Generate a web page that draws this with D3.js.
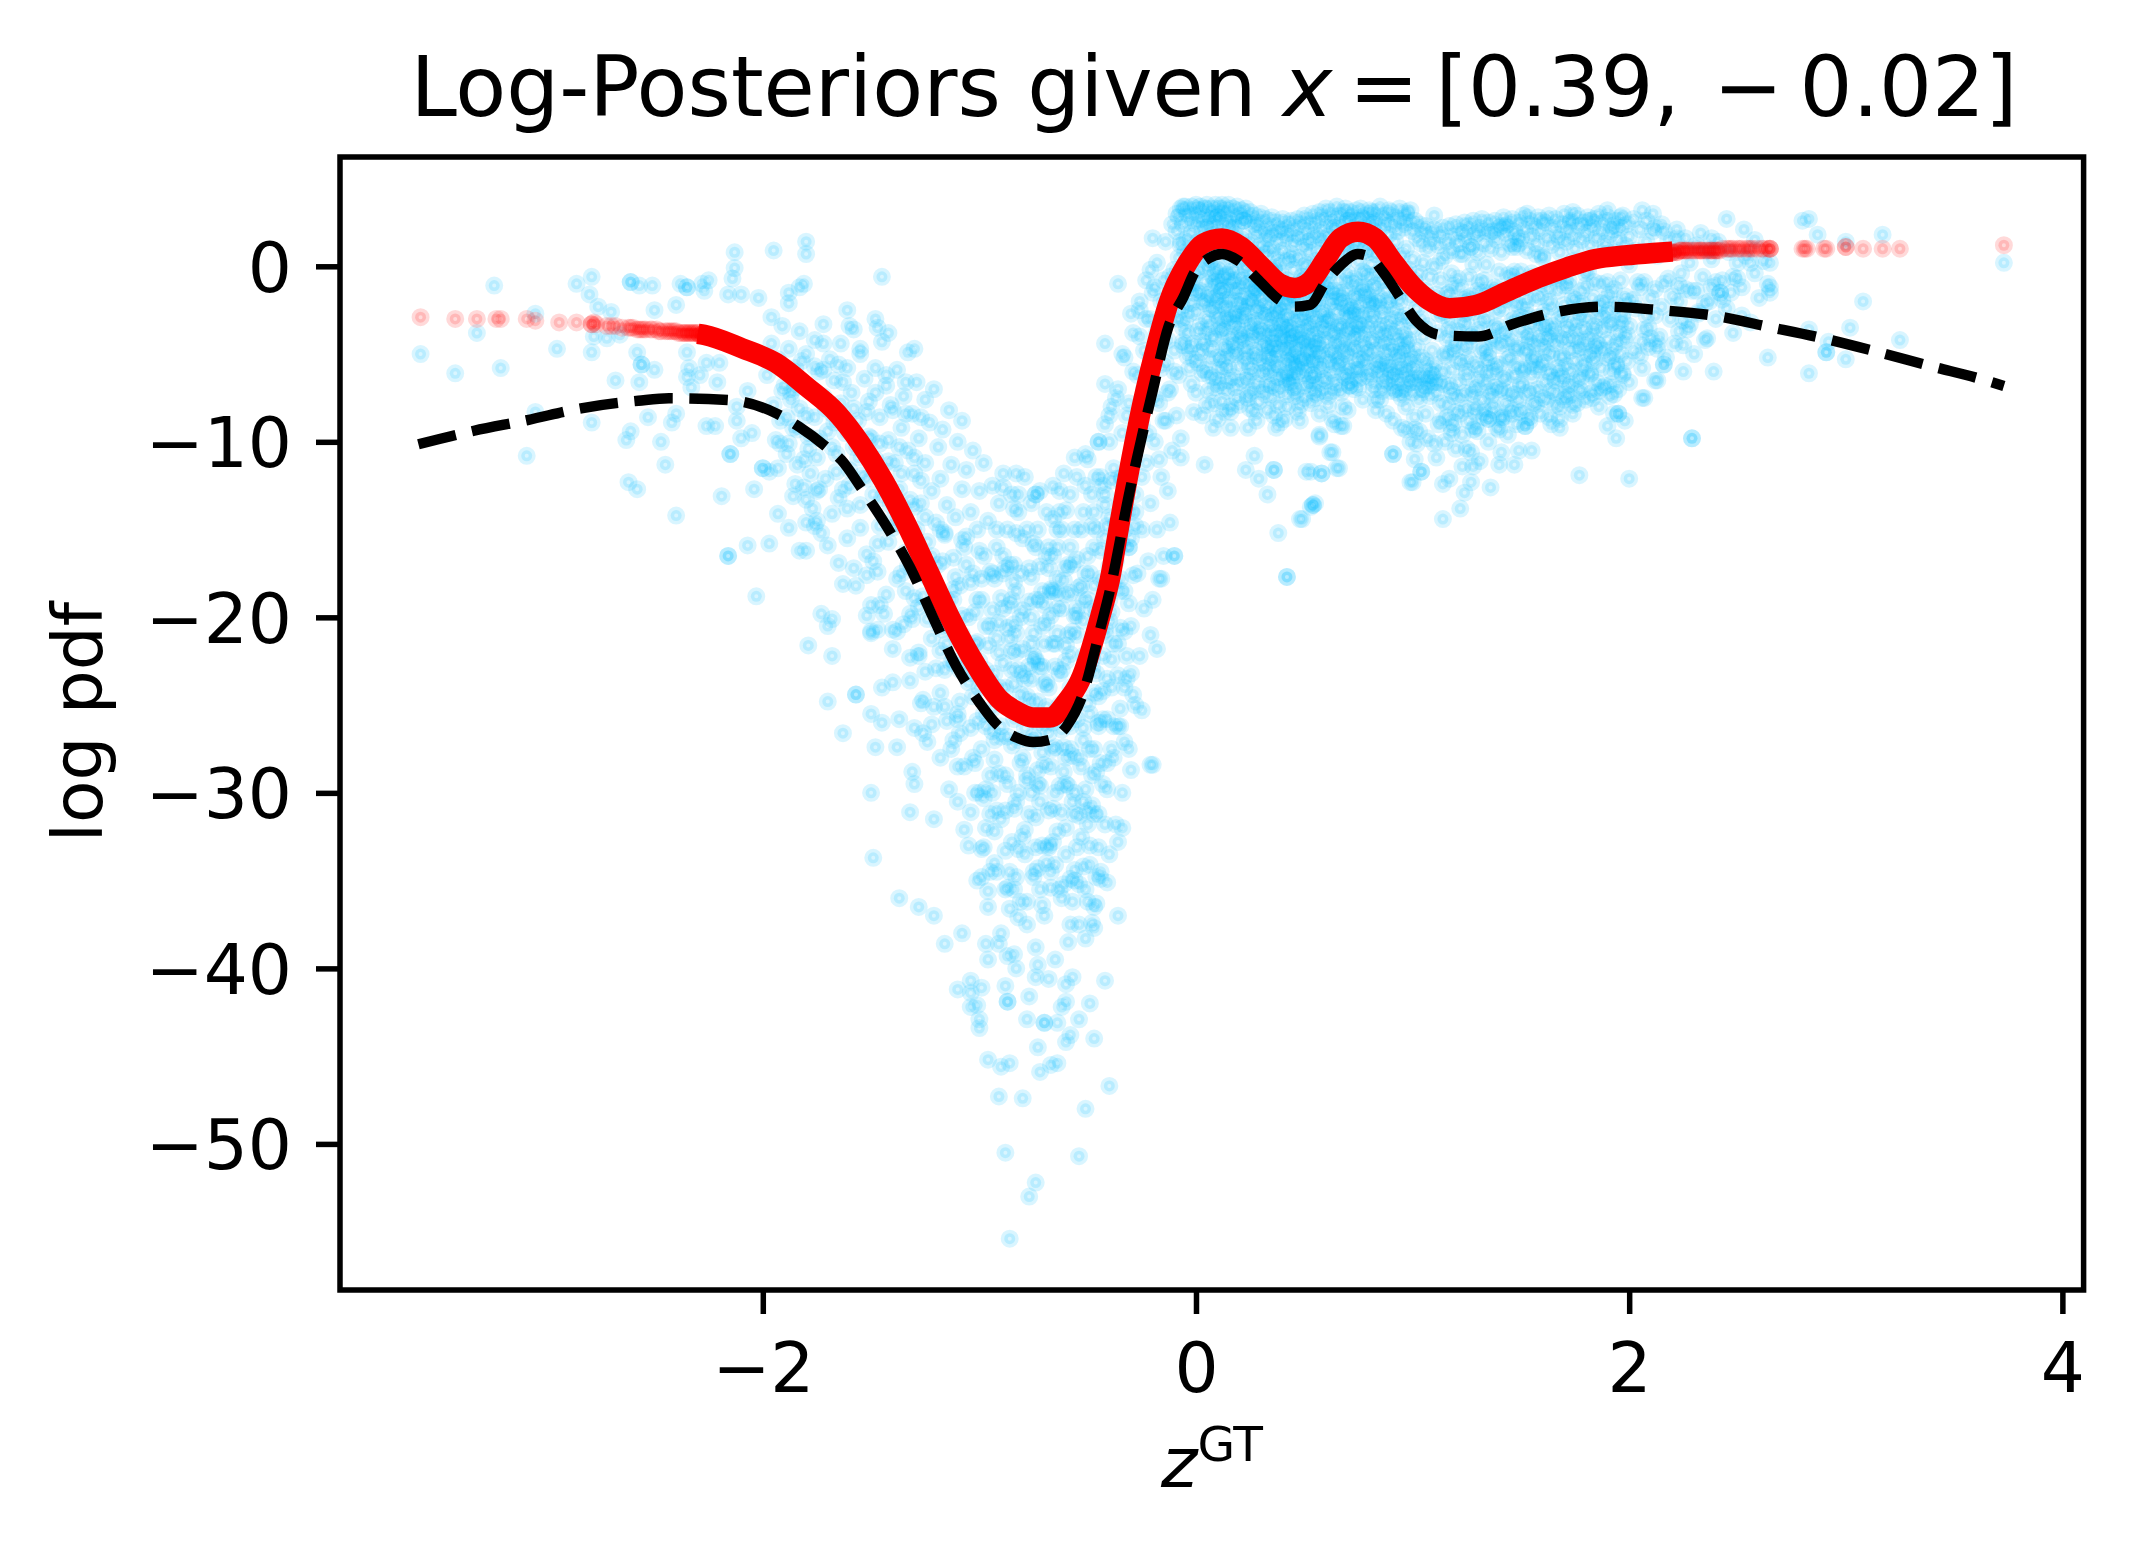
<!DOCTYPE html>
<html><head><meta charset="utf-8">
<script src="https://cdnjs.cloudflare.com/ajax/libs/d3/7.8.5/d3.min.js"></script>
<style>html,body{margin:0;padding:0;background:#fff}svg{display:block}text{font-family:"DejaVu Sans";fill:#000}</style>
</head><body><svg id="c" width="2134" height="1550"></svg>
<script>
const xTicks=[-2,0,2,4], yTicks=[0,-10,-20,-30,-40,-50];
const titleText="Log-Posteriors given ", xLabel="z", xLabelSup="GT", yLabel="log pdf";
// curves: z, log pdf
const redCurve=[[-2.3,-3.85],[-2.27,-3.91],[-2.096,-4.67],[-1.94,-5.5],[-1.797,-6.87],[-1.655,-8.4],[-1.549,-10.1],[-1.443,-12.2],[-1.337,-14.7],[-1.231,-17.5],[-1.136,-20],[-1.012,-22.8],[-.905,-24.7],[-.82,-25.4],[-.752,-25.7],[-.674,-25.7],[-.597,-24.8],[-.535,-23.6],[-.443,-20],[-.392,-17.5],[-.366,-15.6],[-.305,-11.4],[-.243,-7.6],[-.18,-4.4],[-.127,-2.1],[-.039,.19],[.031,1.28],[.12,1.59],[.208,1.12],[.296,.07],[.385,-.97],[.456,-1.23],[.526,-.87],[.597,.36],[.668,1.61],[.747,1.97],[.826,1.61],[.914,.19],[1.003,-1.16],[1.074,-1.92],[1.171,-2.39],[1.295,-2.2],[1.425,-1.5],[1.579,-.67],[1.71,-.08],[1.845,.42],[1.98,.62],[2.11,.76],[2.2,.84]];
const blackCurve=[[-3.59,-10.14],[-3.333,-9.37],[-3.086,-8.76],[-2.839,-8.09],[-2.574,-7.66],[-2.433,-7.52],[-2.159,-7.62],[-1.938,-8.38],[-1.833,-9.14],[-1.708,-10.28],[-1.637,-11.04],[-1.549,-12.56],[-1.427,-14.84],[-1.32,-17.15],[-1.214,-20],[-1.106,-22.8],[-.997,-24.9],[-.92,-26.1],[-.828,-26.85],[-.752,-27.1],[-.674,-26.97],[-.597,-26.2],[-.52,-24.3],[-.443,-20.7],[-.4,-18.6],[-.305,-12.75],[-.199,-7.05],[-.127,-3.44],[-.057,-1.73],[-.005,-.31],[.058,.45],[.12,.7],[.19,.36],[.296,-.88],[.385,-1.92],[.456,-2.3],[.526,-2.2],[.596,-.95],[.668,.07],[.747,.7],[.8,.55],[.862,-.31],[.95,-1.92],[1.02,-3.15],[1.126,-3.91],[1.304,-4],[1.46,-3.3],[1.634,-2.68],[1.88,-2.3],[2.137,-2.49],[2.39,-2.81],[2.64,-3.44],[2.895,-4.1],[3.144,-4.87],[3.39,-5.68],[3.64,-6.48],[3.73,-6.82]];
// tail samples of the red series: z*100, logpdf*10
const redTailLeft=[-358,-29,-342,-30,-332,-30,-323,-30,-321,-30,-309,-30,-305,-31,-294,-32,-286,-32,-279,-33,-279,-33,-278,-32,-277,-33,-272,-34,-270,-34,-268,-34,-265,-35,-262,-35,-261,-35,-260,-35,-258,-36,-257,-36,-256,-36,-255,-36,-254,-36,-252,-36,-251,-36,-249,-36,-248,-37,-247,-37,-245,-37,-244,-37,-243,-37,-242,-37,-241,-37,-240,-37,-239,-38,-238,-38,-237,-38,-236,-38,-236,-38,-235,-38,-234,-38,-234,-38,-233,-38,-232,-38,-232,-38,-231,-38,-230,-38,-230,-38,-229,-39,-229,-39,-228,-39,-228,-39,-227,-39,-227,-39,-226,-39,-226,-39];
const redTailRight=[212,8,213,8,214,8,215,8,216,8,216,8,217,8,218,8,218,8,219,8,220,8,220,8,221,8,222,8,222,8,223,9,224,9,224,9,225,9,226,9,226,9,227,9,228,9,229,9,230,9,231,9,232,9,233,9,233,9,234,9,235,9,236,9,237,9,238,9,238,9,239,9,240,9,240,9,241,9,242,9,243,10,245,10,246,10,247,10,248,10,250,10,251,10,252,10,254,10,255,10,256,10,257,10,259,10,261,10,262,10,264,10,265,10,265,10,265,10,280,10,281,10,282,10,290,10,291,10,300,11,300,11,308,10,317,10,325,10,373,12];
// samples of the blue series: z*100, logpdf*10
const blueTails=[-324,-11,-286,-10,-279,-6,-280,-16,-261,-9,-261,-9,-257,-11,-251,-11,-238,-10,-235,-12,-235,-12,-228,-10,-225,-8,-227,-14,-213,8,-195,9,-180,14,-180,7,-213,-1,-214,-7,-145,-6,-276,-23,-270,-26,-250,-25,-240,-22,-216,-16,-210,-16,-305,-27,-332,-38,-358,-50,-342,-61,-321,-58,-295,-47,-279,-49,-278,-40,-272,-41,-266,-39,-258,-49,-256,-56,-256,-56,-250,-59,-268,-65,-257,-66,-235,-49,-234,-58,-235,-63,-229,-62,-221,-66,-233,-69,-226,-55,-220,-55,-207,-71,-305,-83,-279,-89,-253,-86,-240,-84,-242,-89,-261,-94,-263,-99,-247,-100,-226,-91,-222,-91,-212,-88,-212,-80,-309,-108,-245,-113,-262,-123,-258,-127,-215,-107,-215,-107,-219,-131,-204,-127,-240,-142,-216,-165,-216,-165,-207,-159,-197,-158,-203,-188,-183,-162,-180,-162,-193,-141,-188,-149,-180,-146,-175,-145,-193,-115,-200,-115,-200,-115,-197,-117,-210,-98,-205,-95,-194,-99,-188,-101,-181,-110,-186,-131,-185,-124,-180,-133,-175,-128,-202,-18,-196,-29,-188,-21,-183,-12,-181,-10,-188,-15,-161,-25,-160,-34,-148,-30,-147,-35,-142,-38,-130,-47,
-86,-554,-74,-522,-77,-530,-88,-505,-54,-507,-91,-473,-80,-474,-51,-480,-40,-467,-96,-452,-90,-456,-86,-454,-72,-459,-67,-455,-64,-454,-73,-445,-47,-440,-60,-442,-58,-438,-100,-434,-100,-429,-101,-421,-104,-422,-110,-412,-104,-414,-104,-407,-99,-411,-88,-410,-87,-419,-87,-419,-77,-416,-78,-429,-70,-431,-70,-431,-64,-431,-54,-429,-49,-420,-42,-407,-68,-406,-60,-409,-57,-405,-60,-419,-62,-422,-74,-405,-73,-398,-83,-400,-96,-395,-87,-393,-97,-386,-91,-386,-116,-386,-108,-380,-121,-370,-128,-365,-137,-360,-149,-337,-132,-311,-121,-315,-150,-300,-130,-295,-131,-288,-148,-274,-138,-274,-163,-266,-170,-248,-145,-260,-150,-255,-137,-258,-130,-263,-157,-244,-157,-244,-145,-240,-140,-237,-168,-222,-179,-216,-170,-205,-168,-201,-173,-198,-152,-199,-150,-208,-147,-207,-138,-208,-20,-284,-21,-284,-30,-287,-34,-320,-36,-328,-36,-370,-46,-363,-41,-351,-48,-374,-47,-377,-51,-383,-58,-375,-25,-253,-29,-244,-30,-232,-18,-218,-21,-210,-17,-178,-10,-165,
49,-144,53,-137,55,-135,114,-144,122,-138,124,-129,127,-123,128,-114,131,-111,114,-124,117,-121,136,-126,99,-123,104,-117,91,-107,66,-115,58,-118,53,-117,101,-110,102,-101,110,-101,111,-109,125,-104,123,-114,140,-113,147,-113,141,-106,149,-105,155,-105,177,-119,200,-121,229,-98,190,-91,194,-98,195,-84,195,-84,206,-75,212,-65,216,-56,193,-73,186,-71,178,-71,176,-78,170,-76,168,-92,168,-87,163,-86,152,-91,152,-91,154,-86,140,-93,135,-87,135,-87,142,-86,128,-93,118,-95,113,-88,101,-93,97,-93,91,-88,83,-82,83,-76,71,-68,67,-91,63,-87,68,-80,57,-97,63,-106,
110,29,97,31,89,32,81,31,124,19,130,19,137,20,143,23,153,30,160,26,174,31,173,25,182,26,190,32,196,28,193,21,206,32,211,30,212,22,222,16,216,20,245,27,280,26,283,27,287,18,300,14,317,18,253,21,238,16,258,15,373,2,265,2,256,2,265,-12,265,-15,248,-6,242,-15,242,-15,247,-15,308,-20,238,-12,231,-14,223,-11,207,-9,283,-36,252,-28,225,-31,302,-35,325,-42,292,-43,291,-49,291,-49,300,-53,264,-52,239,-60,283,-61,236,-41,223,-37,213,-44,216,-56,213,-65,207,-75,229,-98,
-20,16,-21,-2,-36,-10,-30,-27,-42,-44,-42,-67,-83,-118,-63,-128,-74,-130,-74,-130,-82,-130,-89,-126,-60,-139,-66,-144,-84,-138,-56,-109,-51,-107,-45,-100,-7,-109,4,-113,-16,-178,-10,-165,-12,-146,42,-177,42,-177,38,-152,48,-144,54,-136,54,-136,33,-130,29,-121,23,-116,27,-108,36,-116,36,-116,51,-117,58,-118,65,-115,62,-106,57,-96,68,-91,71,-68,91,-107,100,-123,104,-117,24,-92,16,-92,8,-92,13,-83];
const blueDescent=[-198,-62,-196,-44,-195,-79,-193,-53,-192,-88,-191,-34,-190,-68,-189,-107,-188,-47,-187,-76,-186,-92,-185,-58,-184,-113,-183,-37,-183,-81,-182,-66,-181,-126,-180,-50,-179,-97,-178,-71,-177,-138,-176,-42,-176,-86,-175,-109,-174,-60,-173,-152,-172,-74,-172,-33,-171,-121,-170,-94,-169,-53,-168,-84,-168,-141,-167,-65,-166,-107,-165,-169,-164,-44,-164,-78,-163,-127,-162,-95,-161,-58,-161,-155,-160,-116,-159,-72,-158,-36,-158,-103,-157,-182,-156,-88,-155,-136,-155,-50,-154,-119,-153,-64,-152,-164,-151,-97,-151,-77,-150,-209,-149,-130,-148,-58,-148,-110,-147,-174,-146,-86,-146,-148,-145,-43,-144,-122,-144,-198,-143,-68,-142,-99,-142,-157,-141,-136,-140,-82,-140,-218,-139,-112,-138,-59,-138,-178,-137,-127,-136,-92,-136,-147,-135,-74,-135,-204,-134,-163,-133,-105,-133,-49,-132,-133,-132,-236,-131,-84,-130,-189,-130,-118,-129,-150,-129,-66,-128,-220,-128,-98,-127,-172,-127,-135,-126,-247,-125,-112,-125,-76,-124,-201,-124,-157,-123,-89,-122,-261,-122,-128,-121,-183,-121,-70,-120,-146,-120,-229,-119,-103,-119,-170,-118,-280,-118,-121,-117,-207,-117,-93,-116,-153,-116,-251,-115,-136,-115,-190,-114,-82,-114,-298,-113,-226,-113,-113,-112,-166,-112,-270,-111,-143,-111,-210,-110,-100,-110,-305,-109,-182,-109,-248,-108,-127,-108,-88,-107,-285,-107,-160,-106,-225,-106,-116,-105,-200,-105,-330,-104,-140,-104,-263,-103,-105,-103,-175,-102,-300,-102,-215,-101,-150,-101,-350,-100,-128,-100,-240,-99,-190,-99,-275,-98,-112,-98,-165,-97,-320,-97,-230,-96,-145,-96,-365,-95,-205,-95,-290,-94,-125,-94,-252,-93,-178,-93,-340,-92,-160,-92,-310,-91,-220,-91,-135,-90,-380,-90,-268,-89,-195,-89,-118,-88,-355,-88,-240,-87,-150,-87,-295,-86,-212,-86,-170,-85,-328,-85,-130,-84,-258,-84,-392,-83,-185,-83,-305,-82,-140,-82,-230,-81,-362,-81,-200,-80,-280,-80,-155,-79,-335,-79,-120,-78,-245,-78,-375,-77,-172,-77,-312,-76,-215,-76,-135,-75,-268,-75,-348,-74,-190,-74,-388,-73,-150,-73,-295,-72,-228,-72,-128,-71,-330,-71,-205,-70,-262,-70,-370,-69,-165,-69,-140,-68,-310,-68,-240,-67,-185,-67,-345,-66,-275,-66,-125,-65,-395,-65,-215,-64,-160,-64,-322,-63,-250,-63,-140,-62,-360,-62,-195,-61,-288,-61,-118,-60,-225,-60,-335,-59,-170,-59,-385,-58,-262,-58,-130,-57,-305,-57,-208,-56,-150,-56,-350,-55,-240,-55,-120,-54,-280,-54,-375,-53,-182,-53,-325,-52,-140,-52,-222,-51,-298,-51,-355,-50,-165,-50,-110,-49,-255,-49,-330,-48,-195,-48,-130,-47,-365,-47,-275,-46,-150,-46,-232,-45,-100,-45,-312,-44,-178,-44,-345,-43,-125,-43,-258,-42,-210,-42,-90,-41,-298,-41,-148,-40,-335,-40,-190,-39,-80,-39,-240,-38,-115,-38,-280,-37,-168,-37,-318,-36,-70,-36,-215,-35,-135,-35,-262,-34,-95,-34,-300,-33,-185,-33,-52,-32,-235,-32,-120,-31,-275,-31,-78,-30,-155,-30,-205,-29,-38,-29,-100,-28,-250,-28,-130,-27,-62,-27,-175,-26,-222,-26,-25,-25,-90,-25,-150,-24,-48,-24,-195,-23,-112,-23,-8,-22,-168,-22,-72,-21,-135,-21,-30,-20,-190,-20,-55,-19,-100,-19,-12,-18,-150,-18,2,-17,-78,-17,-35,-16,-120,-16,-58,-15,-8,-15,-165,-14,-88,-14,14,-13,-42,-13,-128,-12,-20,-12,-70,-11,24,-11,-105,-10,-48,-10,-2,-9,-85,-9,30,-8,-30,-8,-62,-7,12,-7,-98,-6,34,-6,-45];
const blueDescentMore=[-118,-150,-115,-215,-112,-190,-110,-255,-108,-210,-106,-170,-104,-232,-103,-280,-101,-190,-100,-300,-98,-255,-97,-205,-95,-345,-94,-175,-93,-270,-91,-240,-90,-315,-89,-165,-88,-290,-86,-250,-85,-190,-84,-355,-83,-220,-82,-270,-81,-175,-80,-325,-79,-235,-78,-290,-76,-200,-75,-345,-74,-160,-73,-260,-72,-305,-71,-185,-70,-238,-69,-340,-68,-160,-67,-285,-66,-215,-65,-300,-64,-195,-63,-355,-62,-150,-61,-255,-60,-320,-59,-210,-58,-275,-57,-170,-56,-300,-55,-195,-54,-235,-53,-150,-52,-270,-51,-125,-50,-225,-49,-175,-48,-290,-47,-140,-46,-205,-45,-260,-44,-120,-43,-190,-42,-155,-41,-235,-40,-100,-39,-165,-38,-215,-37,-75,-36,-145,-35,-185,-34,-120,-33,-240,-32,-85,-31,-160,-30,-110,-29,-60,-28,-140,-27,-90,-26,-40,-25,-120,-24,-70,-23,-30,-22,-95,-21,-52,-20,-15,-19,-75,-18,-38,-17,-110,-16,-20,-15,-88,-14,-55,-13,-72,-12,-6,-11,-30,-10,-60,-92,-150,-84,-180,-78,-150,-72,-190,-66,-165,-58,-160,-52,-190,-47,-160,-42,-130,-92,-212,-85,-230,-76,-235,-70,-215,-62,-230,-55,-210,-48,-215,-90,-262,-82,-300,-74,-270,-66,-260,-60,-280,-52,-305,-45,-245];
const blueDescentScatter=[-73,-287,-101,-214,-55,-331,-126,-188,-88,-172,-47,-243,-109,-266,-66,-309,-83,-348,-39,-197,-95,-236,-58,-186,-118,-243,-77,-271,-42,-318,-104,-311,-69,-203,-52,-263,-91,-289,-36,-233,-129,-171,-80,-218,-61,-352,-99,-348,-44,-283,-112,-225,-74,-331,-57,-247,-86,-193,-33,-208,-122,-212,-65,-274,-49,-341,-93,-322,-38,-262,-106,-154,-71,-364,-54,-183,-84,-309,-131,-201,-63,-232,-46,-198,-97,-262,-41,-283,-115,-259,-76,-177,-59,-296,-89,-226,-35,-178,-125,-231,-68,-331,-51,-226,-102,-283,-31,-192,-81,-244,-120,-194,-56,-312,-94,-196,-43,-242,-110,-285,-73,-248,-48,-307,-87,-268,-37,-147,-134,-185,-64,-209,-100,-162,-53,-285,-79,-321,-40,-171,-117,-168,-70,-284,-92,-345,-45,-331,-61,-179,-108,-199,-83,-152,-34,-159,-127,-249,-75,-209,-50,-249,-96,-216,-39,-224,-67,-354,-113,-275,-58,-221,-85,-273,-30,-140,-103,-245,-72,-171,-47,-182,-90,-189,-36,-121,-122,-165,-62,-264,-98,-303,-44,-162,-78,-293,-55,-167,-107,-321,-82,-332,-41,-258,-69,-251,-128,-222,-60,-187,-93,-281,-33,-271,-116,-152,-74,-314,-49,-275,-87,-206,-38,-180,-101,-259,-65,-341,-54,-313,-80,-196,-119,-204,-43,-295,-95,-174,-71,-228,-57,-279,-84,-238,-29,-176,-111,-177,-63,-296,-46,-348,-91,-203,-35,-252,-124,-271,-76,-248,-52,-202,-99,-332,-68,-266,-40,-202,-105,-237,-81,-283,-58,-349,-32,-222,-88,-333,-70,-193,-48,-148,-114,-205,-64,-186,-96,-356,-42,-136,-77,-228,-55,-258,-130,-137,-86,-366,-39,-122,-67,-199,-102,-197,-50,-362,-73,-343,-92,-246,-60,-216,-45,-262,-121,-251,-83,-209,-34,-131,-109,-230,-56,-344,-75,-158,-98,-331,-47,-312,-66,-328,-89,-175,-37,-158,-126,-266,-62,-311,-79,-263,-51,-175,-104,-180,-41,-188,-94,-265,-71,-277,-116,-230,-54,-352,-85,-219,-44,-349,-69,-237,-100,-225,-36,-262,-59,-254,-82,-371,-48,-224,-112,-184,-74,-224,-90,-248,-64,-178,-53,-234,-28,-148,-132,-223,-77,-191,-40,-143,-97,-298,-61,-274,-46,-288,-87,-354,-33,-150,-108,-156,-68,-172,-56,-199,-78,-362,-123,-178,-43,-222,-93,-232,-72,-296,-50,-318,-35,-206,-103,-221,-65,-228,-84,-204,-57,-362,-118,-219,-39,-275,-75,-222,-48,-229,-95,-312,-60,-172,-31,-160,-110,-258,-80,-232,-52,-342,-67,-184,-88,-310,-42,-207,-128,-194,-73,-256,-55,-199,-99,-178];
const blueLeftScatter=[-172,-59,-165,-132,-158,-81,-149,-168,-191,-71,-178,-118,-142,-111,-184,-93,-155,-47,-139,-143,-168,-103,-146,-193,-176,-57,-161,-138,-134,-84,-187,-72,-152,-121,-170,-159,-143,-62,-180,-85,-136,-175,-163,-66,-150,-98,-127,-122,-174,-127,-158,-172,-140,-149,-192,-101,-132,-198,-167,-89,-148,-72,-182,-54,-125,-143,-156,-109,-137,-103,-172,-44,-145,-132,-163,-181,-129,-175,-185,-69,-152,-83,-140,-207,-176,-148,-134,-66,-160,-125,-147,-158,-171,-81,-130,-109,-143,-187,-189,-86,-155,-149,-136,-118,-166,-117,-150,-193,-127,-86,-179,-104,-141,-79,-158,-95,-133,-171,-174,-98,-146,-101,-124,-177,-165,-56,-152,-176];
const blueCore=[-9,20,-8,28,-8,5,-7,33,-7,14,-6,-6,-6,24,-5,34,-5,8,-5,-22,-4,30,-4,16,-4,-38,-3,26,-3,2,-3,-58,-2,34,-2,19,-2,-12,-1,29,-1,7,-1,-44,0,35,0,24,0,-4,0,-26,0,-72,1,32,1,14,1,-15,1,-55,2,27,2,34,2,-2,2,-34,3,21,3,9,3,-20,3,-85,4,33,4,16,4,-9,4,-46,5,28,5,35,5,-1,5,-30,6,23,6,11,6,-16,6,-62,7,33,7,27,7,4,7,-24,8,30,8,18,8,-10,8,-40,8,-78,9,35,9,24,9,-3,9,-18,10,28,10,12,10,-28,10,-52,11,33,11,20,11,-7,11,-36,12,30,12,35,12,0,12,-14,12,-68,13,25,13,8,13,-22,13,-46,14,32,14,16,14,-5,14,-30,15,27,15,35,15,-12,15,-58,16,22,16,6,16,-19,16,-40,16,-80,17,33,17,12,17,-8,17,-27,18,28,18,18,18,-2,18,-50,19,34,19,24,19,-14,19,-34,20,29,20,4,20,-22,20,-66,21,32,21,10,21,-6,21,-42,22,26,22,17,22,-17,22,-30,23,33,23,-1,23,-26,23,-54,24,27,24,8,24,-10,24,-75,25,31,25,14,25,-20,25,-38,26,24,26,-4,26,-32,26,-60,27,29,27,6,27,-14,27,-48,28,18,28,-8,28,-24,28,-88,29,25,29,2,29,-36,29,-52,30,30,30,12,30,-18,30,-70,31,20,31,-3,31,-28,31,-44,32,27,32,7,32,-12,32,-60,33,16,33,-22,33,-38,33,-82,34,23,34,-6,34,-52,34,-33,35,28,35,10,35,-16,35,-68,36,19,36,-1,36,-44,36,-28,37,25,37,6,37,-10,37,-58,37,-92,38,14,38,-24,38,-38,38,-50,39,21,39,-4,39,-70,39,-32,40,27,40,9,40,-14,40,-46,41,16,41,-20,41,-62,41,-36,42,24,42,3,42,-8,42,-80,43,19,43,-28,43,-52,43,-42,44,26,44,7,44,-16,44,-66,45,13,45,-2,45,-38,45,-56,46,22,46,-12,46,-30,46,-74,47,27,47,5,47,-46,47,-60,48,17,48,-20,48,-36,48,-88,49,24,49,-6,49,-52,49,-42,50,29,50,11,50,-26,50,-68,51,20,51,1,51,-16,51,-58,52,26,52,8,52,-34,52,-48,53,15,53,-9,53,-40,53,-78,54,23,54,30,54,-22,54,-62,55,18,55,3,55,-30,55,-54,56,26,56,-12,56,-44,56,-72,57,31,57,9,57,-6,57,-84,58,21,58,-18,58,-36,58,-50,59,28,59,13,59,-26,59,-64,60,33,60,4,60,-10,60,-42,61,24,61,17,61,-30,61,-74,62,31,62,-2,62,-20,62,-56,63,27,63,10,63,-38,63,-48,64,22,64,-14,64,-66,64,-90,65,34,65,6,65,-26,65,-44,66,29,66,15,66,-8,66,-54,67,24,67,-18,67,-34,67,-72,68,31,68,2,68,-42,68,-62,69,33,69,11,69,-24,69,-50,70,26,70,-4,70,-14,70,-82,71,31,71,18,71,-36,71,-60,72,28,72,8,72,-28,72,-46,73,22,73,-10,73,-18,73,-70,74,32,74,13,74,-40,74,-54,75,26,75,3,75,-22,75,-64,76,33,76,16,76,-12,76,-34,77,21,77,-3,77,-44,77,-76,78,29,78,9,78,-28,78,-52,79,24,79,-16,79,-36,80,32,80,14,80,-6,80,-60,81,27,81,1,81,-22,81,-42,82,20,82,-12,82,-30,82,-70,83,31,83,7,83,-48,84,26,84,-4,84,-36,84,-56,85,34,85,12,85,-18,85,-76,86,22,86,-8,86,-28,86,-44,87,29,87,3,87,-54,87,-64,88,25,88,-14,88,-38,88,-84,89,18,89,-2,89,-22,89,-58,90,31,90,8,90,-46,90,-66,91,24,91,-10,91,-30,92,28,92,14,92,-40,92,-60,93,20,93,-4,93,-72,93,-52,94,33,94,-20,94,-34,95,26,95,6,95,-48,95,-92,96,22,96,-12,96,-62,96,-70,97,30,97,10,97,-28,97,-80,98,25,98,-2,98,-54,98,-42,99,32,99,-18,99,-64,99,-100,100,20,100,4,100,-36,100,-72,101,26,101,-8,101,-58,101,-86,102,16,102,-24,102,-66,102,-46,103,24,103,-4,103,-76,103,-94,104,13,104,-30,104,-62,104,-52,105,20,105,2,105,-40,105,-70,106,23,106,-14,106,-64,106,-84,107,10,107,-34,107,-58,107,-98,108,18,108,-6,108,-68,108,-74,109,14,109,-22,109,-62,109,-48,110,21,110,0,110,-56,110,-66];
const blueCoreScatter=[37,-27,-3,-47,61,-5,14,-71,82,-43,26,-13,53,-65,6,-33,71,-23,44,-41,-7,-17,92,-25,33,-57,19,-49,64,-39,10,-87,56,-21,85,-61,29,-77,48,-9,3,-61,76,-53,41,-33,15,-29,67,-15,23,-65,97,-47,52,-49,-1,-83,35,-75,80,-33,8,-41,59,-71,27,-51,73,-7,46,-25,12,-53,89,-19,39,-89,-5,-31,63,-61,21,-37,55,-37,94,-57,31,-11,78,-47,5,-79,43,-61,17,-63,69,-29,50,-75,25,-43,86,-71,36,-19,1,-37,58,-45,74,-59,11,-11,47,-83,91,-37,28,-67,65,-51,-2,-67,40,-23,83,-11,20,-57,54,-33,7,-53,77,-39,34,-47,95,-75,16,-9,60,-65,45,-69,24,-73,88,-49,-4,-11,38,-63,70,-57,9,-69,51,-43,30,-55,81,-27,13,-37,62,-31,99,-31,42,-55,22,-23,75,-69,-6,-35,57,-59,32,-73,93,-17,18,-45,49,-29,4,-21,66,-69,84,-53,27,-39,44,-53,10,-65,72,-41,37,-47,2,-49,61,-79,96,-39,19,-27,53,-27,79,-19,35,-35,14,-19,87,-67,46,-71,25,-57,-8,-13,68,-47,41,-15,6,-71,56,-67,90,-71,30,-61,76,-27,16,-43,48,-57,63,-23,-3,-27,23,-47,98,-67,39,-13,71,-65,11,-31,52,-13,83,-59,34,-29,59,-33,20,-79,43,-35,66,-43,8,-25,94,-43,28,-31,74,-17,50,-61,-1,-53,36,-53,86,-25,15,-51,55,-47,69,-63,25,-21,42,-73,3,-43,80,-49,58,-57,33,-67,12,-77,92,-63,47,-39,64,-17,21,-11,77,-63,38,-79,-5,-9,54,-71,18,-69,85,-39,29,-25,70,-37,45,-49,7,-47,60,-13,100,-53,24,-63,51,-35,36,-85,82,-67,13,-57,67,-55,41,-87,-2,-21,26,-71,75,-33,56,-41,10,-17,89,-33,32,-45,62,-49,17,-33,46,-19,78,-55,4,-59,37,-69,96,-59,22,-41,55,-75,72,-25,-7,-25,40,-41,84,-21,14,-47,58,-27,30,-37,65,-57,9,-9,49,-53,25,-81,91,-49,43,-45,68,-21,19,-75,35,-61,80,-63,-4,-51,53,-53,11,-59,74,-47,28,-15,60,-37,44,-65,94,-29,16,-83,38,-25,77,-15,5,-37,57,-15,23,-51,86,-57,48,-79,33,-51,71,-49,-1,-15,41,-63,63,-71,12,-35,52,-67,97,-43,27,-83,81,-21,20,-39,66,-35,36,-41,45,-57,8,-63,75,-59,55,-55,-6,-43,31,-21,88,-43,15,-65,61,-53,42,-29,73,-33];
const blueRight=[111,-16,111,-72,112,12,112,-38,112,-90,113,18,113,-8,113,-78,114,22,114,-28,114,-60,115,6,115,-50,115,-100,116,14,116,-16,116,-86,117,23,117,-36,117,-68,118,9,118,-4,118,-92,119,17,119,-44,119,-74,120,24,120,-22,120,-104,121,13,121,-54,121,-66,122,20,122,-12,122,-84,123,7,123,-32,123,-96,124,25,124,-46,124,-72,125,15,125,-18,125,-60,126,23,126,-6,126,-88,127,11,127,-40,127,-106,128,26,128,-26,128,-70,129,18,129,-56,129,-80,130,8,130,-14,130,-94,131,22,131,-36,131,-64,132,27,132,-48,132,-76,133,13,133,-8,133,-86,134,20,134,-30,134,-66,135,25,135,-52,135,-100,136,10,136,-20,136,-74,137,18,137,-42,137,-82,138,26,138,-12,138,-60,139,15,139,-34,139,-92,140,22,140,-56,140,-70,141,8,141,-24,141,-86,142,28,142,-44,142,-64,143,19,143,-16,143,-78,144,24,144,-38,144,-96,145,13,145,-52,145,-72,146,27,146,-6,146,-84,147,20,147,-30,147,-62,148,11,148,-46,148,-90,149,25,149,-22,149,-76,150,16,150,-36,150,-68,151,29,151,-58,151,-82,152,21,152,-12,152,-48,153,9,153,-28,153,-72,154,26,154,-40,154,-88,155,17,155,-4,155,-62,156,23,156,-52,156,-78,157,13,157,-18,157,-44,158,28,158,-34,158,-70,159,20,159,-56,159,-84,160,6,160,-10,160,-46,161,25,161,-26,161,-66,162,16,162,-40,162,-76,163,29,163,-20,163,-60,164,12,164,-50,164,-90,165,22,165,-6,165,-34,166,27,166,-44,166,-72,167,18,167,-14,167,-58,168,8,168,-30,168,-80,169,24,169,-52,169,-64,170,30,170,-22,170,-42,171,14,171,-68,171,-36,172,21,172,-8,172,-74,173,26,173,-48,173,-60,174,17,174,-18,174,-84,175,10,175,-32,175,-54,176,29,176,-64,176,-42,177,23,177,-26,177,-70,178,15,178,-46,178,-14,179,25,179,-58,179,-36,180,19,180,-4,180,-76,181,28,181,-30,181,-50,182,12,182,-62,182,-40,183,22,183,-18,183,-72,184,27,184,-54,184,-34,185,16,185,-44,185,-66,186,30,186,-24,186,-80,187,20,187,-10,187,-58,188,25,188,-48,188,-36,189,13,189,-68,189,-28,190,28,190,-52,190,-42,191,18,191,-16,191,-74,192,23,192,-60,192,-32,193,8,193,-46,193,-84,194,26,194,-22,194,-56,195,15,195,-38,195,-70,196,22,196,-8,196,-50,197,29,197,-62,197,-30,198,12,198,-42,198,-88,199,24,199,-20,199,-54,200,17,200,-34,200,-66,202,27,202,-48,203,9,203,-24,205,21,205,-12,206,-58,207,-36,208,26,208,14,209,-46,210,-18,211,20,212,-28,213,6,214,-40,215,24,216,-10,217,-52,218,15,219,-30,220,8,221,-44,222,21,223,-20,224,-4,225,-60,226,16,227,-36,228,2,229,-14,230,-50,231,12,232,-26,233,19,234,-6,235,-42,236,9,237,-20,238,4,240,-30,241,14,243,-8,245,-24,246,8,248,-38,250,2,252,-12,254,6,256,-32,258,-4,260,-18,262,3,264,-10];
const blueRightScatter=[127,-17,163,-41,118,-59,147,-3,191,-33,136,-71,172,-11,112,-27,155,-57,184,-47,129,-83,141,23,198,-17,166,-65,121,-7,150,-29,178,-21,133,-47,160,-75,116,-41,145,-81,189,9,125,-33,169,-51,139,-13,208,-28,157,7,114,-67,182,-61,148,-47,130,-21,195,-43,123,-55,174,3,153,-19,137,-79,204,-9,161,-33,119,-11,186,-29,143,-63,168,15,128,-73,152,-39,180,-11,134,1,210,-41,158,-59,113,3,192,-51,146,-31,171,-73,126,-45,138,-57,200,1,164,-23,120,-83,149,13,176,-37,131,-9,155,-71,188,-69,142,-37,215,-23,167,-7,117,-31,135,-61,183,-51,159,-17,124,-19,197,-27,150,-67,173,-41,140,-3,122,7,162,-49,206,-43,144,-53,178,-63,129,-91,156,-9,115,-51,193,-13,169,-27,137,-41,184,-37,147,-73,127,11,212,-13,164,-63,132,-31,175,-19,153,-49,118,-71,199,-39,141,-87,187,-21,159,-41,125,-63,220,-17,148,17,171,-57,134,-55,194,-57,143,-19,166,-79,121,-37,181,-3,151,-59,228,-33,139,-25,202,-19,161,-55,116,-79,176,-47,146,11,130,-69,190,-9,155,-33,235,-21,168,-41,124,-27,145,-43,183,-75,136,-15,209,-35,158,-29,120,-47,173,-67,149,-83,196,-33,128,1,240,-9,163,-13,142,-71,186,-45,133,-83,154,-43,178,-29,117,-15,218,-7,170,-11,138,-35,225,-45,160,5,126,-53,192,-67,148,-57,180,-43,119,-89,243,-19,165,-37,135,-49,205,-51,152,-23,128,-39,174,-79,189,-19,144,-5,232,-27,157,-79,122,-75,197,-61,140,-45,168,-61,131,-59,250,-7,162,-35,184,-9,147,-21,213,-47,172,-33,125,-81,156,-53,138,-69,226,-13,191,-25,150,-3,118,-49,179,-55,164,-71,133,-15];
// dark patches of the cloud
const blueDense=[4,10,8,-6,12,-14,16,-3,20,-20,24,2,28,-12,32,-26,36,-2,40,-34,44,-18,48,-42,52,-26,56,-50,60,-30,34,-46,38,-56,42,-48,46,-62,50,-54,54,-62,42,-66,46,-50,50,-44,54,-44,40,-42,36,-38,44,-38,48,-32,30,-40,26,-34,22,-28,18,-30,14,-24,10,-22,6,-18,2,-14,62,-14,66,-20,70,-8,74,-26,78,-12,82,-20,86,-34,66,-34,70,-28,74,-36,78,-4,58,-8,54,-16,50,-8,46,-12,42,-20,38,-14,34,-8,30,-2,26,-18,22,-8,18,-14,14,-6,10,-2,6,2,2,6,-2,8,90,-62,94,-66,98,-58,102,-62,106,-68,110,-60,92,-70,96,-72,100,-66,104,-72,108,-64,112,-66,90,-56,100,-50,94,-50,106,-54,4,24,10,28,16,24,22,26,28,22,34,18,40,20,46,16,52,14,58,16,64,22,70,26,76,28,82,24,6,14,14,12,20,14,26,8,32,10,38,2,44,4,50,0,56,-4,62,4,68,12,74,14,80,8,86,10,-2,-8,-94,-240,-84,-170,-74,-225,-66,-185,-58,-240,-94,-300,-86,-345,-76,-300,-68,-330,-60,-295,-50,-310,-72,-355,-64,-150,-50,-190,-46,-120,-40,-85,-34,-50,-26,-20];
const X=d3.scaleLinear().domain([-3.952,4.098]).range([340,2083.6]);
const Y=d3.scaleLinear().domain([0,-50]).range([266.3,1143.9]);
const svg=d3.select("#c");
const toPairs=a=>{const o=[];for(let i=0;i<a.length;i+=2)o.push([a[i]/100,a[i+1]/10]);return o};
const blue=[blueTails,blueDescent,blueDescentMore,blueDescentScatter,blueLeftScatter,blueCore,blueCoreScatter,blueRight,blueRightScatter,blueDense].flatMap(toPairs);
const dots=(data,col)=>svg.append("g").selectAll("circle").data(data).join("circle")
 .attr("cx",d=>X(d[0])).attr("cy",d=>Y(d[1])).attr("r",5.5)
 .attr("fill",col).attr("fill-opacity",.15).attr("stroke",col).attr("stroke-opacity",.15).attr("stroke-width",7);
dots(blue,"#00bfff");
const line=d3.line().x(d=>X(d[0])).y(d=>Y(d[1])).curve(d3.curveMonotoneX);
svg.append("path").attr("d",line(redCurve)).attr("fill","none").attr("stroke","#fb0000").attr("stroke-width",20.5);
dots([...toPairs(redTailLeft),...toPairs(redTailRight)],"#ff0000");
svg.append("path").attr("d",line(blackCurve)).attr("fill","none").attr("stroke","#000").attr("stroke-width",10.4).attr("stroke-dasharray","38.5 16.6");
// frame
svg.append("rect").attr("x",340).attr("y",157).attr("width",1743.6).attr("height",1133).attr("fill","none").attr("stroke","#000").attr("stroke-width",5.5);
const fs=69.4;
const gx=svg.append("g").attr("transform","translate(0,1290)").call(d3.axisBottom(X).tickValues(xTicks).tickSize(24).tickPadding(24));
const gy=svg.append("g").attr("transform","translate(340,0)").call(d3.axisLeft(Y).tickValues(yTicks).tickSize(24).tickPadding(24));
[gx,gy].forEach(g=>{g.select(".domain").remove();g.selectAll("line").attr("stroke","#000").attr("stroke-width",5.5);
 g.selectAll("text").attr("font-family","DejaVu Sans").attr("font-size",fs).attr("fill","#000")});
gx.selectAll("text").each(function(){d3.select(this).attr("y",102).attr("dy",0)});
gy.selectAll("text").attr("dy",".36em");
// title
const t=svg.append("text").attr("x",1214).attr("y",116).attr("text-anchor","middle").attr("font-size",83.3).attr("xml:space","preserve");
t.append("tspan").text(titleText);
t.append("tspan").attr("font-style","italic").text("x");
t.append("tspan").text("\u2009=\u2009[0.39,\u2009\u2009\u2212\u20090.02]");
const xl=svg.append("text").attr("x",1212).attr("y",1487).attr("text-anchor","middle").attr("font-size",fs);
xl.append("tspan").attr("font-style","italic").text(xLabel);
xl.append("tspan").attr("font-size",48.6).attr("dy",-26).text(xLabelSup);
svg.append("text").attr("transform","translate(102,722) rotate(-90)").attr("text-anchor","middle").attr("font-size",fs).text(yLabel);
</script></body></html>
